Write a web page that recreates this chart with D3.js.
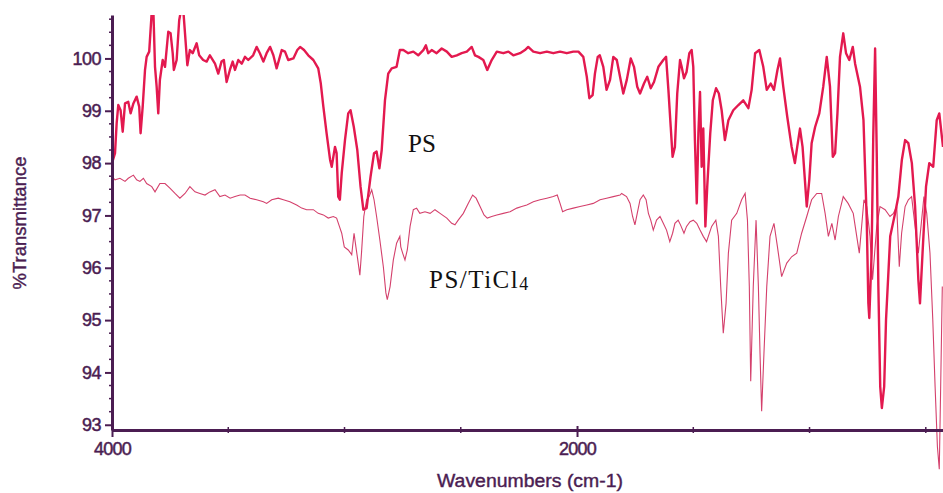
<!DOCTYPE html>
<html>
<head>
<meta charset="utf-8">
<script src="https://cdn.jsdelivr.net/npm/d3@7"></script>
<style>
  body { margin: 0; background: #fff; }
  svg { display: block; }
  .axis path, .axis line { stroke: #4b1d52; }
  .axis text { fill: #4b1d52; font-family: "Liberation Sans", Arial, sans-serif; }
</style>
</head>
<body>
<div id="chart_box"></div>
<script>
// PS spectrum (thick line): wavenumber (cm-1) and %T
var psWn = [4000,3987,3980,3973,3963,3954,3944,3930,3920,3908,3894,3883,3877,3868,3858,3851,3840,3829,3822,3815,3808,3801,3794,3782,3772,3758,3748,3739,3734,3722,3711,3704,3693,3686,3676,3665,3653,3636,3625,3608,3593,3579,3557,3543,3529,3519,3507,3493,3481,3471,3457,3442,3428,3414,3393,3378,3364,3349,3335,3320,3306,3292,3270,3256,3242,3220,3203,3191,3174,3156,3134,3113,3102,3091,3077,3062,3055,3041,3034,3027,3020,3012,2998,2984,2974,2960,2945,2931,2919,2905,2888,2873,2862,2850,2840,2826,2812,2797,2776,2762,2747,2726,2704,2683,2661,2650,2640,2625,2604,2582,2560,2539,2517,2496,2474,2453,2439,2424,2403,2386,2367,2345,2317,2295,2274,2245,2224,2210,2188,2159,2130,2102,2073,2044,2016,1994,1973,1958,1947,1933,1923,1911,1902,1887,1873,1858,1844,1829,1815,1801,1786,1769,1755,1741,1729,1712,1698,1683,1669,1650,1629,1617,1607,1597,1589,1579,1569,1557,1550,1540,1529,1517,1507,1500,1493,1485,1478,1471,1464,1457,1448,1440,1427,1416,1402,1390,1378,1364,1349,1328,1306,1285,1263,1249,1234,1216,1199,1184,1167,1153,1138,1127,1113,1096,1077,1063,1053,1041,1030,1020,1012,1001,991,976,958,941,926,912,900,890,880,869,855,843,829,814,804,783,768,754,747,743,733,726,718,711,704,696,689,679,671,653,632,618,603,589,575,560,546,532,525,514,499,485,468,453,442,426];
var psT = [98.00,98.19,98.76,99.11,99.01,98.60,99.14,99.17,98.95,99.14,99.27,99.08,98.57,99.08,99.78,100.03,100.13,100.9,100.9,99.84,99.46,98.95,99.59,99.97,99.84,100.51,100.48,100.10,99.78,99.97,100.73,100.9,100.9,100.48,99.87,100.16,100.10,100.29,100.06,99.97,99.94,100.06,99.90,99.71,99.94,99.97,99.55,99.78,99.94,99.78,99.97,99.90,100.03,99.97,100.06,100.22,100.10,99.94,100.10,100.22,100.06,99.81,100.16,100.13,99.97,100.00,100.16,100.22,100.16,100.06,99.97,99.81,99.52,99.08,98.57,98.06,97.93,98.31,98.19,97.36,97.30,97.81,98.44,98.95,99.01,98.69,98.25,97.55,97.11,97.14,97.74,98.19,98.22,97.90,98.25,99.20,99.71,99.81,99.84,100.16,100.16,100.10,100.13,100.06,100.16,100.25,100.10,100.16,100.10,100.19,100.13,100.03,100.06,100.10,100.13,100.22,100.06,100.03,99.97,99.78,99.97,100.13,100.10,100.13,100.06,100.10,100.16,100.22,100.13,100.10,100.13,100.10,100.13,100.10,100.13,100.13,100.03,99.65,99.24,99.30,99.71,100.03,100.06,99.84,99.40,99.59,100.03,99.97,99.65,99.33,99.59,100.00,99.84,99.46,99.33,99.52,99.65,99.43,99.55,99.84,99.97,100.03,99.40,98.69,98.12,98.31,99.33,99.97,99.84,99.62,99.74,100.10,100.16,99.84,98.44,97.23,98.57,99.36,97.93,98.66,96.79,97.55,98.57,99.20,99.43,99.33,99.01,98.44,98.82,99.01,99.11,99.20,99.05,99.40,100.10,100.16,99.84,99.40,99.52,99.40,99.78,100.00,99.46,98.89,98.31,98.00,98.31,98.66,98.31,97.68,97.17,97.68,98.38,98.69,98.95,99.46,100.03,99.46,98.12,98.19,98.95,100.03,100.48,100.10,99.97,100.22,99.90,99.46,98.82,96.91,95.32,95.04,96.28,98.50,100.19,98.19,95.64,93.73,93.32,93.73,95.01,96.60,97.04,97.36,98.06,98.44,98.38,98.00,97.17,95.77,95.32,96.28,97.55,98.00,97.93,98.82,98.95,98.31];

// PS/TiCl4 spectrum (thin line)
var tiWn = [4000,3987,3966,3944,3930,3908,3894,3880,3865,3851,3829,3815,3794,3772,3751,3729,3708,3686,3665,3643,3622,3600,3579,3557,3536,3514,3492,3471,3449,3428,3406,3378,3349,3335,3313,3285,3263,3235,3206,3184,3163,3134,3113,3091,3070,3048,3034,3022,3012,3001,2984,2969,2959,2951,2941,2934,2927,2917,2905,2894,2883,2873,2862,2848,2833,2822,2816,2804,2790,2776,2762,2758,2750,2740,2730,2718,2704,2690,2676,2654,2632,2611,2589,2560,2539,2525,2511,2489,2468,2449,2434,2417,2400,2386,2367,2345,2317,2288,2259,2238,2216,2188,2159,2130,2102,2085,2073,2062,2044,2016,1987,1958,1930,1901,1873,1844,1815,1808,1787,1772,1761,1751,1741,1729,1715,1703,1693,1683,1672,1658,1643,1629,1615,1601,1589,1579,1565,1555,1540,1529,1514,1500,1485,1471,1457,1443,1421,1403,1392,1382,1371,1359,1349,1335,1313,1292,1277,1267,1259,1253,1242,1230,1220,1213,1206,1196,1184,1170,1153,1138,1120,1098,1077,1055,1034,1012,991,969,948,933,919,904,890,876,855,834,812,797,786,776,766,754,740,729,711,697,675,654,639,625,614,604,589,575,561,546,532,518,508,496,482,470,460,450,442,436,429];
var tiT = [97.74,97.68,97.71,97.65,97.71,97.77,97.68,97.65,97.71,97.61,97.55,97.45,97.61,97.61,97.52,97.42,97.33,97.42,97.55,97.45,97.42,97.39,97.45,97.49,97.36,97.39,97.33,97.36,97.39,97.39,97.33,97.30,97.26,97.23,97.30,97.33,97.30,97.26,97.20,97.14,97.11,97.11,97.04,97.01,96.95,96.98,96.95,96.79,96.66,96.40,96.34,96.25,96.66,96.40,96.09,95.86,96.28,96.98,97.30,97.36,97.49,97.30,96.98,96.53,96.02,95.52,95.39,95.64,96.15,96.47,96.60,96.40,96.28,96.15,96.34,96.79,97.11,97.14,97.04,97.07,97.04,97.11,97.04,96.95,96.85,96.82,96.91,97.04,97.23,97.39,97.33,97.17,97.01,96.95,96.98,97.01,97.04,97.07,97.14,97.17,97.20,97.26,97.30,97.33,97.36,97.39,97.23,97.07,97.11,97.14,97.17,97.20,97.23,97.30,97.33,97.36,97.39,97.42,97.36,97.23,96.98,96.82,97.04,97.30,97.39,97.30,97.04,96.91,96.72,96.91,96.98,96.85,96.72,96.50,96.66,96.85,96.91,96.82,96.66,96.79,96.88,96.91,96.85,96.72,96.60,96.50,96.79,96.91,96.60,95.64,94.75,95.32,96.28,96.91,97.04,97.30,97.42,96.91,95.64,93.83,95.64,96.91,95.64,94.37,93.26,94.37,95.64,96.60,96.85,96.40,95.83,96.09,96.21,96.28,96.66,96.98,97.30,97.42,97.42,97.04,96.60,96.85,96.53,96.98,97.36,97.23,97.04,96.60,96.28,96.79,97.30,97.17,96.60,95.77,96.79,97.17,97.11,96.98,97.04,97.17,96.02,96.66,97.17,97.30,97.36,96.79,96.28,96.91,97.36,97.04,96.28,95.01,93.73,92.58,92.15,93.73,95.64];

var yTicks = [93, 94, 95, 96, 97, 98, 99, 100];
var xLabelTicks = [4000, 2000];
var xMinorTicks = [3500, 3000, 2500, 1500, 1000, 500];

var width = 943, height = 493;
var axisColor = "#4b1d52";

var svg = d3.select("#chart_box").append("svg")
    .attr("width", width)
    .attr("height", height);

var x = d3.scaleLinear().domain([4000, 426]).range([112, 943]);
var y = d3.scaleLinear().domain([92.9, 100.83]).range([430, 15]);

svg.append("defs").append("clipPath").attr("id", "clip")
  .append("rect").attr("x", 112).attr("y", 15).attr("width", 831).attr("height", 478);

var line = d3.line()
    .x(function (d) { return x(d[0]); })
    .y(function (d) { return y(d[1]); });

var tiData = tiWn.map(function (w, i) { return [w, tiT[i]]; });
var psData = psWn.map(function (w, i) { return [w, psT[i]]; });

var plot = svg.append("g").attr("clip-path", "url(#clip)");

plot.append("path")
    .datum(tiData)
    .attr("d", line)
    .attr("fill", "none")
    .attr("stroke", "#d4406c")
    .attr("stroke-width", 1.1);

plot.append("path")
    .datum(psData)
    .attr("d", line)
    .attr("fill", "none")
    .attr("stroke", "#e3194f")
    .attr("stroke-width", 2.4)
    .attr("stroke-linejoin", "round");

// y axis
var yAxis = svg.append("g")
    .attr("class", "axis")
    .attr("transform", "translate(112,0)")
    .call(d3.axisLeft(y).tickValues(yTicks).tickSize(7).tickSizeOuter(0).tickPadding(4));
yAxis.select(".domain").attr("stroke-width", 3);
yAxis.selectAll(".tick line").attr("stroke-width", 2);
yAxis.selectAll("text")
    .style("font-size", "18px")
    .style("letter-spacing", "-0.5px")
    .attr("stroke", axisColor).attr("stroke-width", 0.5);

// y minor ticks
var yMinor = d3.range(93, 100.8, 0.25).filter(function (v) { return Math.abs(v - Math.round(v)) > 0.01; });
svg.append("g").selectAll("line")
    .data(yMinor)
    .enter().append("line")
    .attr("x1", 109).attr("x2", 114)
    .attr("y1", function (d) { return y(d); })
    .attr("y2", function (d) { return y(d); })
    .attr("stroke", axisColor)
    .attr("stroke-width", 1.5);

// x axis
var xAxis = svg.append("g")
    .attr("class", "axis")
    .attr("transform", "translate(0,430)")
    .call(d3.axisBottom(x).tickValues(xLabelTicks).tickSize(7).tickSizeOuter(0).tickPadding(5).tickFormat(d3.format("d")));
xAxis.select(".domain").attr("stroke-width", 3);
xAxis.selectAll(".tick line").attr("stroke-width", 2).attr("y1", -4);
xAxis.selectAll("text")
    .style("font-size", "18px")
    .style("letter-spacing", "-0.8px")
    .attr("stroke", axisColor).attr("stroke-width", 0.5);

svg.append("g").selectAll("line")
    .data(xMinorTicks)
    .enter().append("line")
    .attr("x1", function (d) { return x(d); })
    .attr("x2", function (d) { return x(d); })
    .attr("y1", 427).attr("y2", 433)
    .attr("stroke", axisColor)
    .attr("stroke-width", 1.5);

// axis titles
svg.append("text")
    .attr("transform", "translate(26,223) rotate(-90)")
    .attr("text-anchor", "middle")
    .attr("textLength", 133)
    .attr("lengthAdjust", "spacingAndGlyphs")
    .style("font-family", "'Liberation Sans', Arial, sans-serif")
    .style("font-size", "18px")
    .attr("fill", axisColor)
    .attr("stroke", axisColor).attr("stroke-width", 0.4)
    .text("%Transmittance");

svg.append("text")
    .attr("x", 530).attr("y", 487)
    .attr("text-anchor", "middle")
    .attr("textLength", 186)
    .attr("lengthAdjust", "spacingAndGlyphs")
    .style("font-family", "'Liberation Sans', Arial, sans-serif")
    .style("font-size", "18px")
    .attr("fill", axisColor)
    .attr("stroke", axisColor).attr("stroke-width", 0.4)
    .text("Wavenumbers (cm-1)");

// series labels
svg.append("text")
    .attr("x", 408).attr("y", 152)
    .style("font-family", "'Liberation Serif', 'Times New Roman', serif")
    .style("font-size", "25px")
    .attr("fill", "#111")
    .text("PS");

var lab = svg.append("text")
    .attr("x", 429).attr("y", 288)
    .style("font-family", "'Liberation Serif', 'Times New Roman', serif")
    .style("font-size", "25px")
    .style("letter-spacing", "1.5px")
    .attr("fill", "#111");
lab.append("tspan").text("PS/TiCl");
lab.append("tspan").attr("dy", 2).style("font-size", "18px").text("4");
</script>
</body>
</html>
